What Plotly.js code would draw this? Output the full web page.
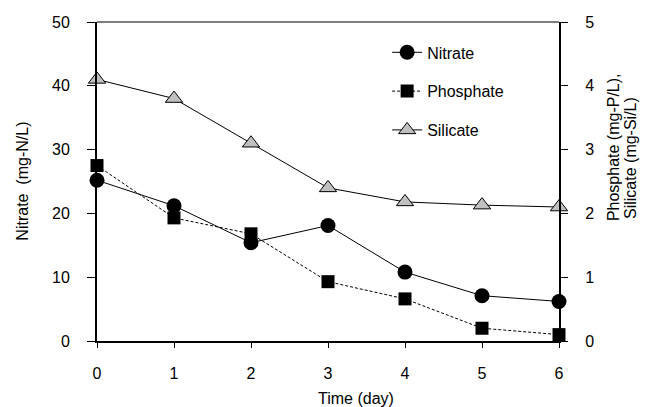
<!DOCTYPE html>
<html><head><meta charset="utf-8">
<script src="https://cdn.plot.ly/plotly-3.0.1.min.js"></script>
<style>html,body{margin:0;padding:0;background:#fff}#c{width:657px;height:407px}</style>
</head><body><div id="c"></div>
<script>
const days = [0, 1, 2, 3, 4, 5, 6];
const nitrate = [25.2, 21.2, 15.4, 18.1, 10.8, 7.1, 6.2];
const phosphate = [2.75, 1.93, 1.68, 0.93, 0.66, 0.2, 0.1];
const silicate = [4.1, 3.8, 3.1, 2.4, 2.18, 2.13, 2.1];
const xTicks = [0, 1, 2, 3, 4, 5, 6];
const xTitle = 'Time (day)';
const yTitle = 'Nitrate  (mg-N/L)';
const y2Title1 = 'Phosphate (mg-P/L),';
const y2Title2 = 'Silicate (mg-Si/L)';

const F = 'Liberation Sans, Arial, sans-serif';
const FS = 16;
const traces = [
  {x: days, y: nitrate, name: 'Nitrate', yaxis: 'y', mode: 'lines+markers', legendgroup: 'a',
   line: {color: '#000', width: 1}, marker: {symbol: 'circle', size: 15, color: '#000'}, cliponaxis: false},
  {x: days, y: phosphate, name: 'Phosphate', yaxis: 'y2', mode: 'lines+markers', legendgroup: 'b',
   line: {color: '#000', width: 1, dash: '3px,2px'}, marker: {symbol: 'square', size: 13, color: '#000'}, cliponaxis: false},
  {x: days, y: silicate, name: 'Silicate', yaxis: 'y2', mode: 'lines+markers', legendgroup: 'c',
   line: {color: '#000', width: 1}, marker: {symbol: 'triangle-up', size: 15, color: '#c0c0c0', line: {color: '#000', width: 1}}, cliponaxis: false}
];
const layout = {
  width: 657, height: 407,
  margin: {l: 97, r: 98, t: 22, b: 66},
  paper_bgcolor: '#fff', plot_bgcolor: '#fff',
  font: {family: F, size: FS, color: '#000'},
  showlegend: true,
  legend: {x: 0.628, y: 0.958, xanchor: 'left', yanchor: 'top', traceorder: 'grouped', tracegroupgap: 15,
           font: {family: F, size: FS, color: '#000'}, bgcolor: 'rgba(0,0,0,0)'},
  xaxis: {range: [0, 6], tickvals: xTicks, ticks: 'outside', ticklen: 5, tickwidth: 1, tickcolor: '#000',
          ticklabelstandoff: 12,
          showline: true, linewidth: 2, linecolor: '#000', showgrid: false, zeroline: false},
  yaxis: {range: [0, 50], dtick: 10, ticks: 'outside', ticklen: 8, tickwidth: 1, tickcolor: '#000',
          ticklabelstandoff: 14,
          showline: true, linewidth: 2, linecolor: '#000', showgrid: false, zeroline: false},
  yaxis2: {range: [0, 5], dtick: 1, overlaying: 'y', side: 'right', ticks: 'outside', ticklen: 7, tickwidth: 1, tickcolor: '#000',
           ticklabelstandoff: 14,
           showline: true, linewidth: 2, linecolor: '#000', showgrid: false, zeroline: false},
  shapes: [{type: 'line', xref: 'paper', yref: 'paper', x0: 0, x1: 1, y0: 1, y1: 1, line: {color: '#000', width: 1}}],
  annotations: [
    {text: xTitle, xref: 'paper', yref: 'paper', x: 0.561, y: -0.179, showarrow: false, xanchor: 'center', yanchor: 'middle', font: {family: F, size: FS}},
    {text: yTitle, xref: 'paper', yref: 'paper', x: -0.162, y: 0.5, textangle: -90, showarrow: false, xanchor: 'center', yanchor: 'middle', font: {family: F, size: FS}},
    {text: y2Title1, xref: 'paper', yref: 'paper', x: 1.117, y: 0.608, textangle: -90, showarrow: false, xanchor: 'center', yanchor: 'middle', font: {family: F, size: FS}},
    {text: y2Title2, xref: 'paper', yref: 'paper', x: 1.156, y: 0.574, textangle: -90, showarrow: false, xanchor: 'center', yanchor: 'middle', font: {family: F, size: FS}}
  ]
};
Plotly.newPlot('c', traces, layout, {displayModeBar: false, staticPlot: true});
</script></body></html>
